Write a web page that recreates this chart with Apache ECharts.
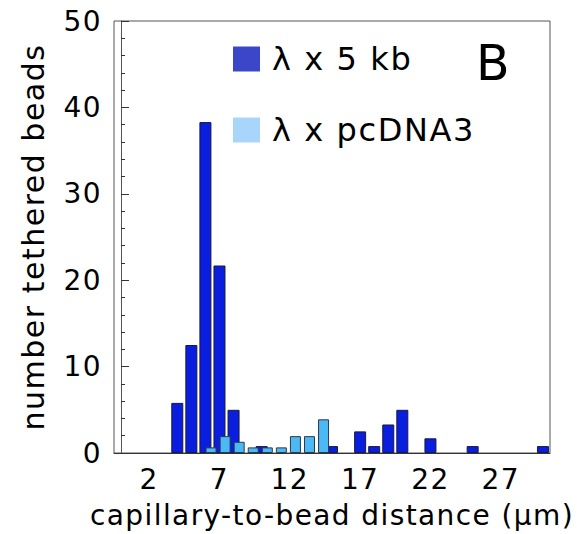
<!DOCTYPE html>
<html>
<head>
<meta charset="utf-8">
<script src="https://cdn.jsdelivr.net/npm/echarts@6/dist/echarts.min.js"></script>
<style>
  html, body { margin: 0; padding: 0; background: #fff; }
  #chart { width: 577px; height: 534px; }
  /* the figure uses a wide face, spread the letters a little */
  #chart text { letter-spacing: 0.05em; }
</style>
</head>
<body>
<div id="chart"></div>
<script>
// bin centres (µm) and counts
const binsKb = [4, 5, 6, 7, 8, 10, 15, 17, 18, 19, 20, 22, 25, 30]
const valuesKb = [5.8, 12.5, 38.3, 21.7, 5.0, 0.8, 0.8, 2.5, 0.8, 3.3, 5.0, 1.7, 0.8, 0.8]
const binsPc = [6.4, 7.4, 8.4, 9.4, 10.4, 11.4, 12.4, 13.4, 14.4]
const valuesPc = [0.65, 1.95, 1.3, 0.65, 0.65, 0.65, 1.95, 1.95, 3.9]
const xTicks = [2, 7, 12, 17, 22, 27]
const seriesNames = ['λ x 5 kb', 'λ x pcDNA3']

const font = 'DejaVu Sans, sans-serif'

const chart = echarts.init(document.getElementById('chart'), null, { renderer: 'svg' })

const xBase = {
  type: 'value',
  min: -0.5,
  max: 30.5,
  splitLine: { show: false },
  axisTick: { show: false }
}

const option = {
  animation: false,
  backgroundColor: '#fff',
  grid: {
    left: 114, right: 27, top: 21, bottom: 78,
    show: true, borderColor: '#555', borderWidth: 1
  },
  title: {
    text: 'B',
    left: 476, top: 39, padding: 0,
    textStyle: { fontFamily: font, fontSize: 49, fontWeight: 'normal', color: '#000' }
  },
  legend: {
    orient: 'vertical',
    left: 233, top: 43, padding: 0,
    itemWidth: 27, itemHeight: 25, itemGap: 39,
    textStyle: { fontFamily: font, fontSize: 32, color: '#000', padding: [0, 0, 0, 7] },
    data: [
      { name: seriesNames[0], icon: 'rect', itemStyle: { color: '#3c46c8', borderWidth: 0 } },
      { name: seriesNames[1], icon: 'rect', itemStyle: { color: '#a8d6fa', borderWidth: 0 } }
    ]
  },
  xAxis: [
    Object.assign({}, xBase, {
      name: 'capillary-to-bead distance (μm)',
      nameLocation: 'middle',
      nameGap: 48,
      nameTextStyle: { fontFamily: font, fontSize: 28, color: '#000' },
      axisLine: { lineStyle: { color: '#333', width: 1 } },
      axisLabel: {
        customValues: xTicks,
        fontFamily: font, fontSize: 28, color: '#000', margin: 12
      }
    }),
    Object.assign({}, xBase, { show: false })
  ],
  yAxis: {
    type: 'value',
    min: 0, max: 50, interval: 10,
    name: 'number tethered beads',
    nameLocation: 'middle',
    nameGap: 66,
    nameTextStyle: { fontFamily: font, fontSize: 30, color: '#000' },
    splitLine: { show: false },
    axisLine: { show: true, lineStyle: { color: '#555' } },
    axisTick: { show: true, inside: true, length: 8, lineStyle: { color: '#333' } },
    minorTick: { show: true, splitNumber: 5, length: 4, lineStyle: { color: '#333' } },
    axisLabel: { fontFamily: font, fontSize: 28, color: '#000', margin: 12 }
  },
  series: [
    {
      name: seriesNames[0],
      type: 'bar',
      xAxisIndex: 0,
      barWidth: 12,
      data: binsKb.map((b, i) => [b, valuesKb[i]]),
      itemStyle: { color: '#0a1ee0', borderColor: '#1a1a3a', borderWidth: 1 }
    },
    {
      name: seriesNames[1],
      type: 'bar',
      xAxisIndex: 1,
      barWidth: 11,
      data: binsPc.map((b, i) => [b, valuesPc[i]]),
      itemStyle: { color: '#4cb8f4', borderColor: '#2a3a4a', borderWidth: 1 }
    }
  ]
}

chart.setOption(option)
window.addEventListener('resize', () => chart.resize())
</script>
</body>
</html>
